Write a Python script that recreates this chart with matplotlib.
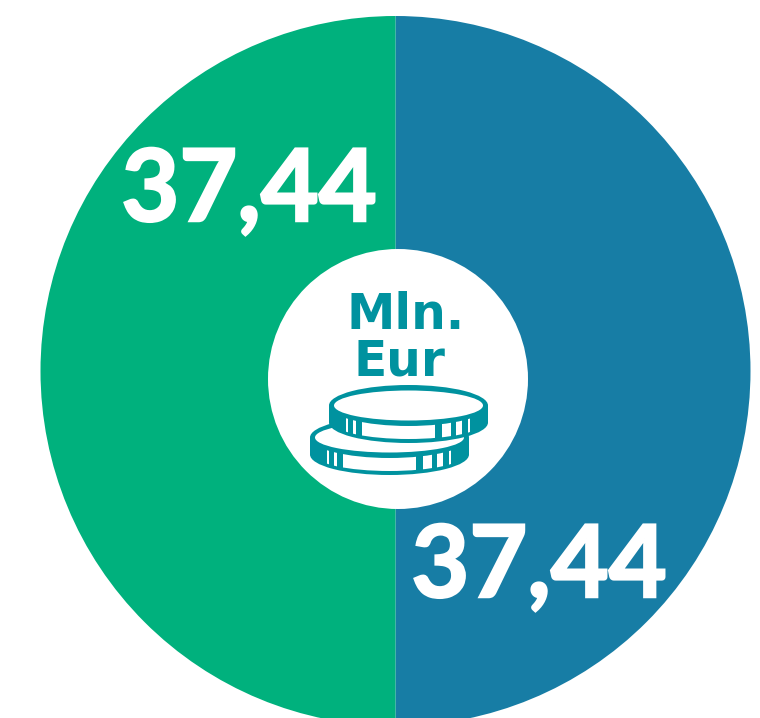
import matplotlib.pyplot as plt
import matplotlib.patheffects as pe
from matplotlib.patches import Ellipse, Rectangle

# === DADOS ===
valores = [37.44, 37.44]
rotulos = ['37,44', '37,44']
cores = ['#177DA5', '#00B17D']
unidade = ['Mln.', 'Eur']
teal = '#00929F'

plt.rcParams['font.family'] = ['Lato', 'DejaVu Sans']

fig = plt.figure(figsize=(7.6, 7.18), dpi=100)
ax = fig.add_axes([0, 0, 1, 1])

ax.pie(valores, colors=cores, startangle=90, counterclock=False,
       radius=355, center=(395.5, 371), frame=True,
       wedgeprops=dict(linewidth=0))
ax.set_aspect('equal')
ax.set_xlim(0, 760)
ax.set_ylim(718, 0)
ax.axis('off')

ax.add_patch(Ellipse((398, 379), 260, 260, fc='white', ec='none', zorder=3))

grosso = [pe.withStroke(linewidth=1.8, foreground='white', joinstyle='miter')]
ax.text(249, 221, rotulos[1], color='white', fontsize=72, fontweight='bold', ha='center', va='baseline',
        zorder=4, path_effects=grosso)
ax.text(539, 597, rotulos[0], color='white', fontsize=72, fontweight='bold', ha='center', va='baseline',
        zorder=4, path_effects=grosso)
ax.text(406, 329, unidade[0], color=teal, fontsize=35, fontweight='bold', family='DejaVu Sans', ha='center',
        va='baseline', zorder=4)
ax.text(399, 375, unidade[1], color=teal, fontsize=35, fontweight='bold', family='DejaVu Sans', ha='center',
        va='baseline', zorder=4)


# moeda: face, borda e frisos
def moeda(cx, cy, z):
    w, h, esp = 159, 41, 17
    ax.add_patch(Ellipse((cx, cy + esp), w, h, fc=teal, ec='none', zorder=z))
    ax.add_patch(Rectangle((cx - w / 2, cy), w, esp, fc=teal, ec='none', zorder=z))
    interno = Ellipse((cx, cy + esp), w - 8, h - 8, fc='none', ec='none', zorder=z)
    ax.add_patch(interno)
    for x0, x1 in [(-63, -61), (-56, -53), (-47, 26), (33, 42), (47, 53), (59, 61)]:
        friso = Rectangle((cx + x0, cy), x1 - x0, esp + h / 2, fc='white', ec='none', zorder=z)
        ax.add_patch(friso)
        friso.set_clip_path(interno)
    ax.add_patch(Ellipse((cx, cy), w, h, fc=teal, ec='none', zorder=z))
    ax.add_patch(Ellipse((cx, cy), w - 10, h - 11, fc='white', ec='none', zorder=z))


moeda(389.5, 437.5, 5)
moeda(408.5, 405.5, 6)

fig.savefig('out.png', dpi=100)
